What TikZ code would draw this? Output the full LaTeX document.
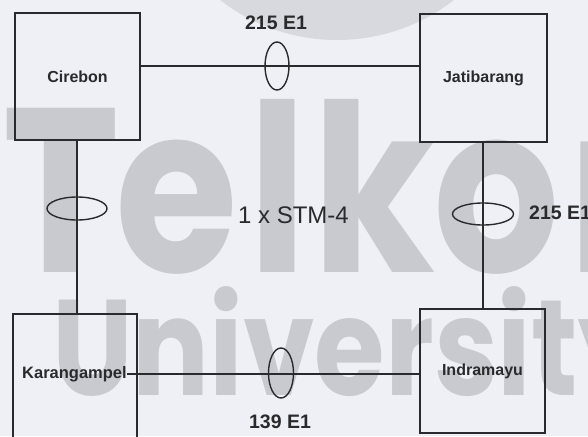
\documentclass[tikz,border=0pt]{standalone}
\usepackage{fontspec}
\setmainfont{Liberation Sans}
\newfontfamily\wmfont{Poppins}
\usetikzlibrary{shapes.geometric}
\definecolor{bg}{RGB}{239,240,245}
\definecolor{wmgray}{RGB}{201,202,208}
\definecolor{wmlight}{RGB}{216,217,223}
\definecolor{ink}{RGB}{42,42,46}
\begin{document}
\begin{tikzpicture}[x=1pt,y=-1pt,
  site/.style={draw=ink, line width=1.4pt, rectangle, inner sep=0pt,
    font=\bfseries\fontsize{16}{18}\selectfont, text=ink},
  ring/.style={draw=ink, line width=1.4pt, ellipse, inner sep=0pt},
  conn/.style={draw=ink, line width=1.3pt},
  lbl/.style={font=\bfseries\fontsize{19.5}{22}\selectfont, text=ink, inner sep=0pt},
  wmtext/.style={text=wmgray, inner sep=0pt, anchor=base west},
  wmbig/.style={wmtext, font=\wmfont\bfseries\fontsize{234}{234}\selectfont, xscale=0.85}]
\useasboundingbox (0,0) rectangle (588,436);
\clip (0,0) rectangle (588,436);
\fill[bg] (0,0) rectangle (588,436);
% watermark
\fill[wmlight] (337,-151) circle (191pt);
\node[wmbig] (wT) at (2,272) {T};
\node[wmbig] (we) at (115,272) {e};
\node[wmbig] (wl) at (248,272) {l};
\node[wmbig] (wk) at (312,272) {k};
\node[wmbig] (wo) at (433,272) {o};
\node[wmbig] (wm) at (568,272) {m};
\node[wmtext, font=\wmfont\bfseries\fontsize{136}{136}\selectfont, xscale=0.84] (wmB) at (52,395) {University};
% sites
\node[site, minimum width=125pt, minimum height=127pt] (cir) at (77.5,76.5) {Cirebon};
\node[site, minimum width=127pt, minimum height=128pt] (jat) at (483.5,78) {Jatibarang};
\node[site, minimum width=124pt, minimum height=136pt] (kar) at (75,382) {};
\node[site, minimum width=125pt, minimum height=124pt] (ind) at (482.5,371) {Indramayu};
\node[font=\bfseries\fontsize{16.5}{18}\selectfont, text=ink, inner sep=0pt, anchor=west] (karlbl) at (22,374) {Karangampel};
% bundles
\node[ring, minimum width=24pt, minimum height=48pt] (e1) at (277,66) {};
\node[ring, minimum width=60pt, minimum height=23pt] (e2) at (77,208.5) {};
\node[ring, minimum width=61pt, minimum height=22pt] (e3) at (483,214) {};
\node[ring, minimum width=25pt, minimum height=50pt] (e4) at (281,373) {};
% links
\draw[conn] (cir.east |- e1) -- (jat.west |- e1);
\draw[conn] (cir.south -| e2) -- (kar.north -| e2);
\draw[conn] (jat.south -| e3) -- (ind.north -| e3);
\draw[conn] (karlbl.east) -- (ind.west |- karlbl);
% labels
\node[lbl] (t1) at (276,22.5) {215 E1};
\node[lbl, anchor=west] (t2) at (529,213) {215 E1};
\node[lbl] (t3) at (280,422) {139 E1};
\node[font=\fontsize{24}{26}\selectfont, text=ink, inner sep=0pt] (stm) at (293.5,215.5) {1 x STM-4};
\end{tikzpicture}
\end{document}
